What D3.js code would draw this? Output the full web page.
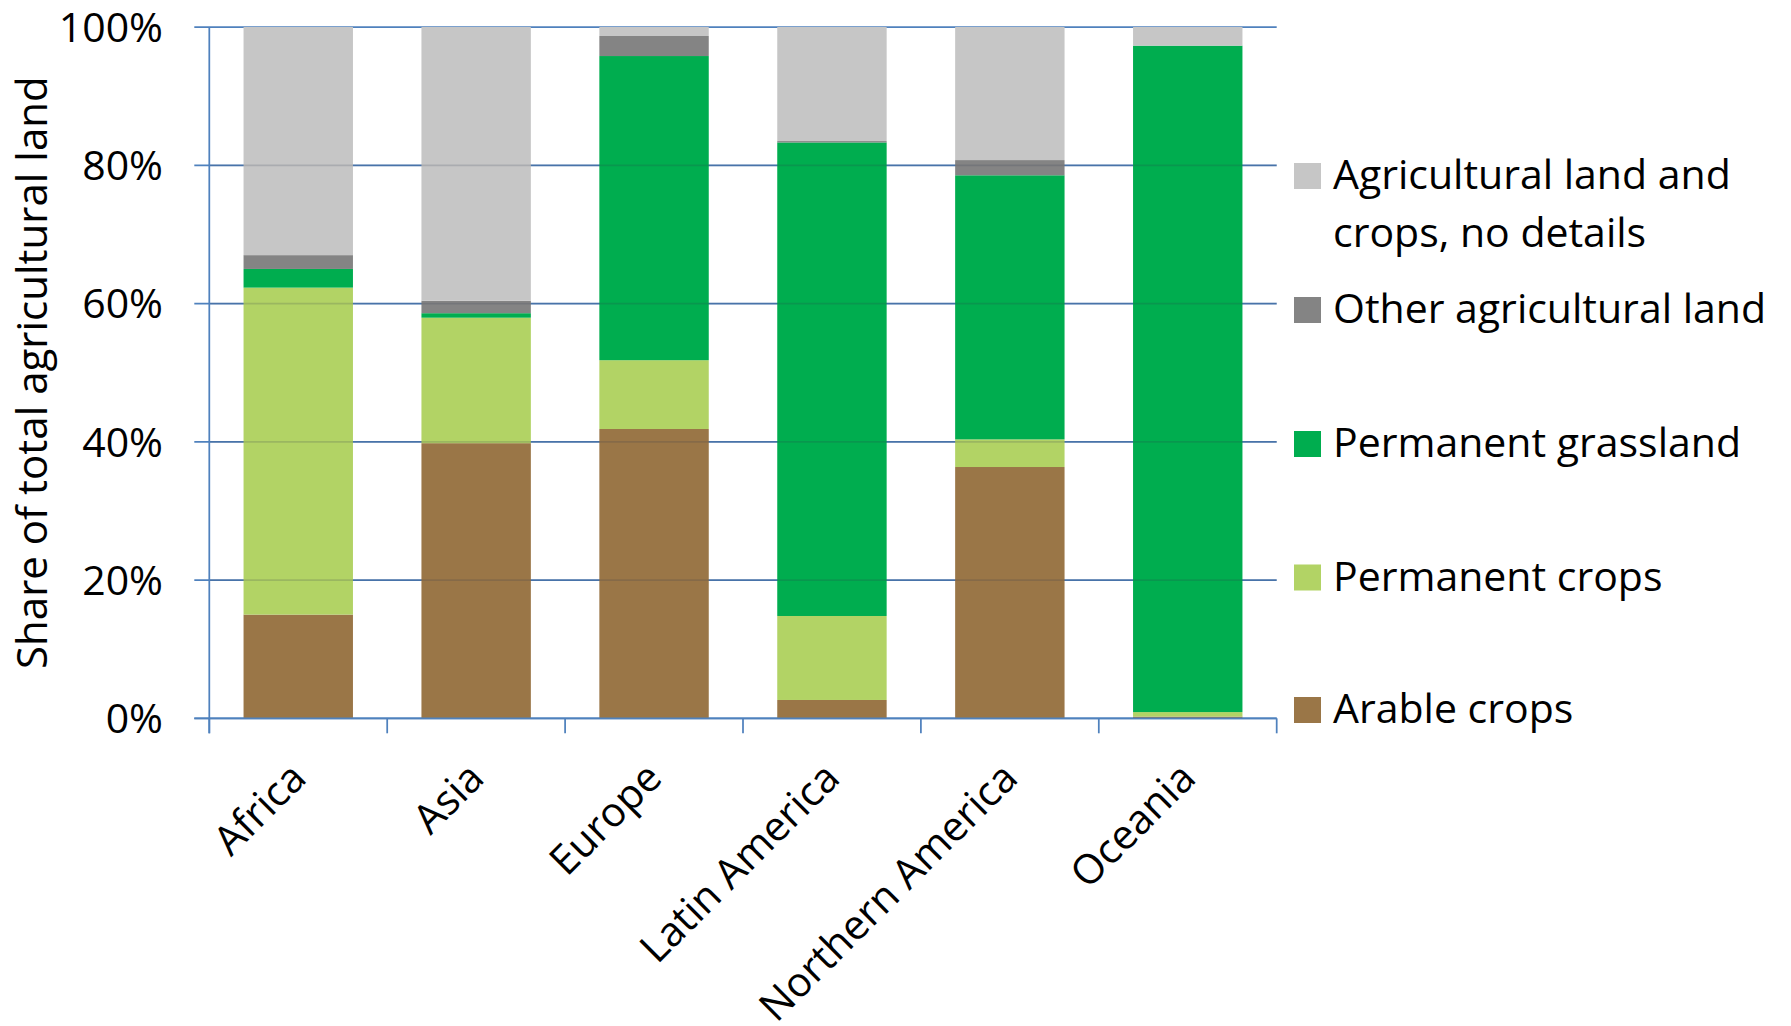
<!DOCTYPE html>
<html>
<head>
<meta charset="utf-8">
<script src="https://cdn.jsdelivr.net/npm/d3@7"></script>
<style>
  body { margin: 0; background: #fff; }
  text { font-family: "Open Sans", "Noto Sans", sans-serif; fill: #000; }
</style>
</head>
<body>
<div id="chart"></div>
<script>
// regions on the x axis
const regions = ["Africa", "Asia", "Europe", "Latin America", "Northern America", "Oceania"];

// shares of total agricultural land (%)
const arableCrops       = [15.0, 39.8, 41.85, 2.65, 36.35, 0.25];
const permanentCrops    = [47.3, 18.15, 9.95, 12.15, 4.0, 0.65];
const permanentGrass    = [2.7, 0.65, 44.0, 68.5, 38.2, 96.4];
const otherAgriLand     = [2.0, 1.8, 2.9, 0.2, 2.2, 0.0];
const noDetails         = [33.0, 39.6, 1.3, 16.5, 19.25, 2.7];

const seriesKeys = ["arable", "perm", "grass", "other", "nodetail"];
const seriesColors = ["#9A7647", "#B2D365", "#00AD4F", "#848484", "#C6C6C6"];

const yTicks = [0, 20, 40, 60, 80, 100];

function renderChart() {
  const width = 1791, height = 1026;
  const left = 209.3, right = 1276.7, top = 27, bottom = 718.3;
  const gridColor = "#4F81BD";

  const rows = regions.map((r, i) => ({
    region: r,
    arable: arableCrops[i],
    perm: permanentCrops[i],
    grass: permanentGrass[i],
    other: otherAgriLand[i],
    nodetail: noDetails[i]
  }));

  const stacked = d3.stack().keys(seriesKeys)(rows);

  const x = d3.scaleBand()
    .domain(regions)
    .range([left, right])
    .paddingInner(0.385)
    .paddingOuter(0.1925);

  const y = d3.scaleLinear().domain([0, 100]).range([bottom, top]);

  const color = d3.scaleOrdinal().domain(seriesKeys).range(seriesColors);

  const svg = d3.select("#chart")
    .append("svg")
    .attr("width", width)
    .attr("height", height);

  // horizontal gridlines (with the 15px tick stubs on the left)
  svg.append("g")
    .selectAll("line")
    .data(yTicks)
    .enter()
    .append("line")
    .attr("x1", left - 15)
    .attr("x2", right)
    .attr("y1", d => y(d))
    .attr("y2", d => y(d))
    .attr("stroke", gridColor)
    .attr("stroke-width", 1.75);

  // stacked bars
  svg.append("g")
    .selectAll("g")
    .data(stacked)
    .enter()
    .append("g")
    .attr("fill", d => color(d.key))
    .selectAll("rect")
    .data(d => d)
    .enter()
    .append("rect")
    .attr("x", d => x(d.data.region))
    .attr("width", x.bandwidth())
    .attr("y", d => y(d[1]))
    .attr("height", d => y(d[0]) - y(d[1]));

  // faint gridline showing through the bars
  svg.append("g")
    .selectAll("line")
    .data(yTicks.filter(d => d > 0 && d < 100))
    .enter()
    .append("line")
    .attr("x1", left)
    .attr("x2", right)
    .attr("y1", d => y(d))
    .attr("y2", d => y(d))
    .attr("stroke", "#2a3550")
    .attr("stroke-opacity", 0.18)
    .attr("stroke-width", 1.75);

  // y axis line
  svg.append("line")
    .attr("x1", left).attr("x2", left)
    .attr("y1", top).attr("y2", bottom + 15)
    .attr("stroke", gridColor)
    .attr("stroke-width", 1.75);

  // x axis line and category boundary ticks
  svg.append("line")
    .attr("x1", left - 15).attr("x2", right)
    .attr("y1", bottom).attr("y2", bottom)
    .attr("stroke", gridColor)
    .attr("stroke-width", 1.75);

  svg.append("g")
    .selectAll("line")
    .data(d3.range(regions.length + 1))
    .enter()
    .append("line")
    .attr("x1", k => left + k * x.step())
    .attr("x2", k => left + k * x.step())
    .attr("y1", bottom)
    .attr("y2", bottom + 15)
    .attr("stroke", gridColor)
    .attr("stroke-width", 1.75);

  // y tick labels
  svg.append("g")
    .selectAll("text")
    .data(yTicks)
    .enter()
    .append("text")
    .attr("x", 163)
    .attr("y", d => y(d))
    .attr("dy", "0.36em")
    .attr("text-anchor", "end")
    .attr("font-size", "41px")
    .text(d => d + "%");

  // y axis title
  svg.append("text")
    .attr("transform", `translate(47, ${(top + bottom) / 2}) rotate(-90)`)
    .attr("text-anchor", "middle")
    .attr("font-size", "42px")
    .text("Share of total agricultural land");

  // rotated category labels
  svg.append("g")
    .selectAll("text")
    .data(regions)
    .enter()
    .append("text")
    .attr("transform", d => `translate(${x(d) + x.bandwidth() / 2 + 10}, ${bottom + 62}) rotate(-45)`)
    .attr("text-anchor", "end")
    .attr("font-size", "41px")
    .text(d => d);

  // legend, top entry first
  const legendItems = [
    { key: "nodetail", lines: ["Agricultural land and", "crops, no details"], base: 189 },
    { key: "other", lines: ["Other agricultural land"], base: 323 },
    { key: "grass", lines: ["Permanent grassland"], base: 457 },
    { key: "perm", lines: ["Permanent crops"], base: 590.5 },
    { key: "arable", lines: ["Arable crops"], base: 723 }
  ];

  const legend = svg.append("g")
    .selectAll("g")
    .data(legendItems)
    .enter()
    .append("g");

  legend.append("rect")
    .attr("x", 1294)
    .attr("y", d => d.base - 26)
    .attr("width", 27)
    .attr("height", 26)
    .attr("fill", d => color(d.key));

  legend.append("text")
    .attr("x", 1333)
    .attr("y", d => d.base)
    .attr("font-size", "41px")
    .selectAll("tspan")
    .data(d => d.lines)
    .enter()
    .append("tspan")
    .attr("x", 1333)
    .attr("dy", (d, i) => i === 0 ? 0 : 58)
    .text(d => d);
}

renderChart();
</script>
</body>
</html>
